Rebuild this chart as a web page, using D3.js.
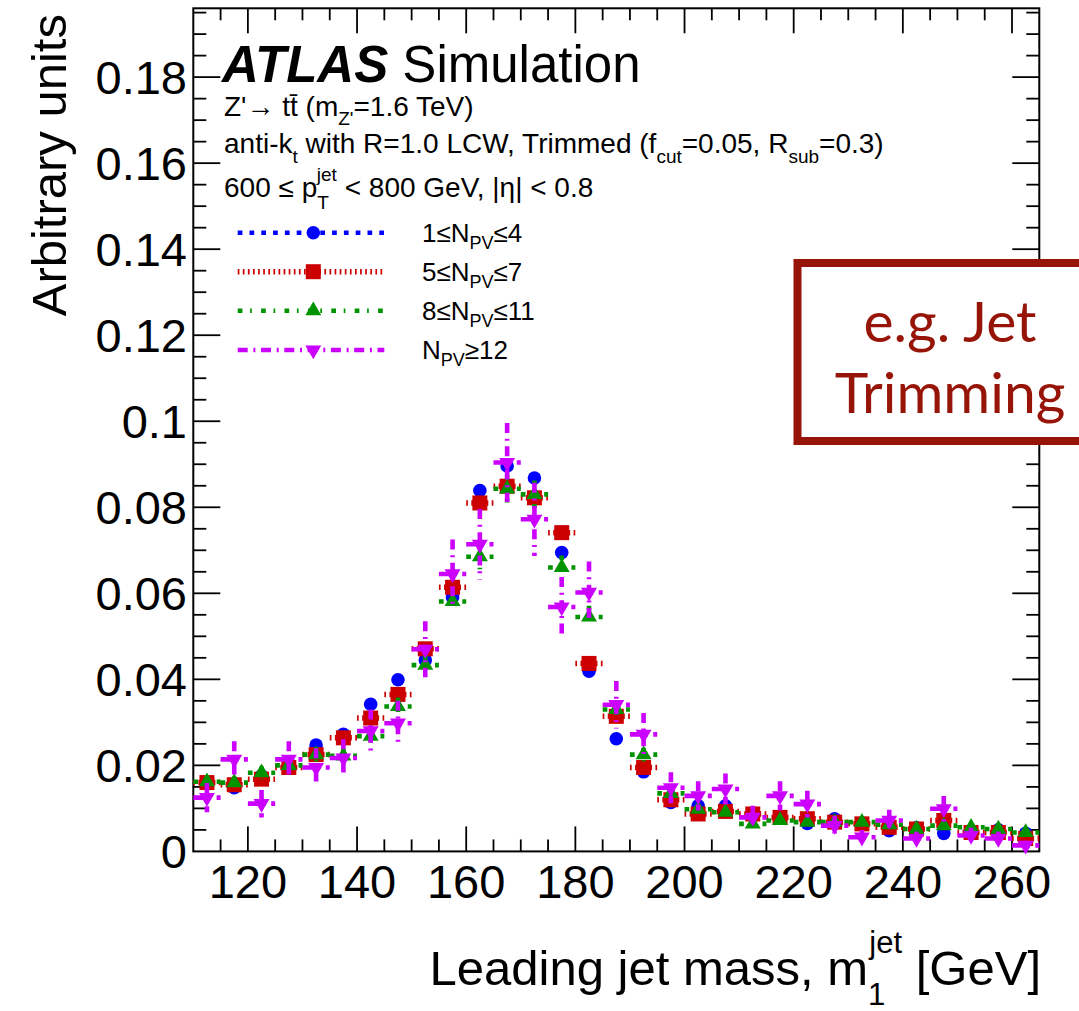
<!DOCTYPE html>
<html>
<head>
<meta charset="utf-8">
<script src="https://cdn.jsdelivr.net/npm/d3@7"></script>
<style>
  html, body { margin: 0; padding: 0; background: #fff; }
  svg { display: block; font-family: "Liberation Sans", Arial, Helvetica, sans-serif; }
</style>
</head>
<body>
<div id="chart"></div>
<script>
// bin centres of the leading jet mass histogram [GeV], 5 GeV wide
var massBins = [112.5, 117.5, 122.5, 127.5, 132.5, 137.5, 142.5, 147.5, 152.5, 157.5,
  162.5, 167.5, 172.5, 177.5, 182.5, 187.5, 192.5, 197.5, 202.5, 207.5,
  212.5, 217.5, 222.5, 227.5, 232.5, 237.5, 242.5, 247.5, 252.5, 257.5, 262.5];
var binWidth = 5;

// normalised yields, one array per pile-up bin
var npv1to4 = [0.0160, 0.0148, 0.0176, 0.0205, 0.0247, 0.0272, 0.0342, 0.0399, 0.0445, 0.0591,
  0.0839, 0.0896, 0.0868, 0.0695, 0.0419, 0.0262, 0.0185, 0.0114, 0.0106, 0.0106,
  0.0085, 0.0080, 0.0065, 0.0076, 0.0066, 0.0048, 0.0055, 0.0042, 0.0046, 0.0050, 0.0042];
var npv5to7 = [0.0160, 0.0155, 0.0168, 0.0195, 0.0225, 0.0264, 0.0310, 0.0365, 0.0471, 0.0614,
  0.0810, 0.0849, 0.0822, 0.0741, 0.0437, 0.0314, 0.0195, 0.0120, 0.0087, 0.0093,
  0.0087, 0.0079, 0.0076, 0.0068, 0.0064, 0.0056, 0.0052, 0.0072, 0.0044, 0.0044, 0.0030];
var npv8to11 = [0.0162, 0.0160, 0.0183, 0.0200, 0.0225, 0.0222, 0.0268, 0.0337, 0.0433, 0.0581,
  0.0685, 0.0843, 0.0830, 0.0660, 0.0545, 0.0330, 0.0225, 0.0135, 0.0098, 0.0091,
  0.0064, 0.0072, 0.0068, 0.0068, 0.0068, 0.0062, 0.0052, 0.0060, 0.0056, 0.0052, 0.0044];
var npv12up = [0.0125, 0.0214, 0.0111, 0.0214, 0.0195, 0.0217, 0.0280, 0.0298, 0.0470, 0.0645,
  0.0714, 0.0904, 0.0772, 0.0568, 0.0602, 0.0341, 0.0272, 0.0148, 0.0129, 0.0145,
  0.0079, 0.0129, 0.0110, 0.0060, 0.0033, 0.0072, 0.0030, 0.0099, 0.0037, 0.0030, 0.0014];

// statistical errors (blue ones are hidden under the markers, not drawn)
var err5to7 = [0.0008, 0.0007, 0.0008, 0.0008, 0.0009, 0.0010, 0.0011, 0.0011, 0.0013, 0.0015,
  0.0017, 0.0017, 0.0017, 0.0016, 0.0013, 0.0011, 0.0008, 0.0007, 0.0006, 0.0006,
  0.0006, 0.0005, 0.0005, 0.0005, 0.0005, 0.0004, 0.0004, 0.0005, 0.0004, 0.0004, 0.0003];
var err8to11 = [0.0014, 0.0014, 0.0015, 0.0016, 0.0017, 0.0016, 0.0018, 0.0020, 0.0023, 0.0027,
  0.0029, 0.0032, 0.0032, 0.0028, 0.0026, 0.0020, 0.0016, 0.0013, 0.0011, 0.0010,
  0.0009, 0.0009, 0.0009, 0.0009, 0.0009, 0.0009, 0.0008, 0.0009, 0.0008, 0.0008, 0.0007];
var err12up = [0.0034, 0.0042, 0.0032, 0.0042, 0.0045, 0.0044, 0.0050, 0.0052, 0.0065, 0.0080,
  0.0082, 0.0092, 0.0085, 0.0070, 0.0072, 0.0055, 0.0050, 0.0036, 0.0034, 0.0036,
  0.0027, 0.0034, 0.0031, 0.0023, 0.0017, 0.0025, 0.0016, 0.0030, 0.0018, 0.0016, 0.0011];

var xTicks = [120, 140, 160, 180, 200, 220, 240, 260];
var yTicks = [0, 0.02, 0.04, 0.06, 0.08, 0.1, 0.12, 0.14, 0.16, 0.18];

drawMassPlot("#chart");

function drawMassPlot(sel) {
  var width = 1079, height = 1011;
  var frame = { left: 193.3, right: 1039.3, top: 8.3, bottom: 851.4 };

  var svg = d3.select(sel).append("svg")
    .attr("width", width)
    .attr("height", height);

  var x = d3.scaleLinear().domain([110, 265]).range([frame.left, frame.right]);
  var y = d3.scaleLinear().domain([0, 0.196]).range([frame.bottom, frame.top]);

  var series = [
    { values: npv1to4, errors: null,
      color: "#0000ff", width: 4.6, dash: "4.7,7.1", symbol: d3.symbolCircle, size: 145, rot: 0 },
    { values: npv5to7, errors: err5to7,
      color: "#cc0000", width: 5.5, dash: "1.7,3.4", symbol: d3.symbolSquare, size: 225, rot: 0 },
    { values: npv8to11, errors: err8to11,
      color: "#009300", width: 4.6, dash: "4.7,7.7,1.7,9.3", symbol: d3.symbolTriangle, size: 110, rot: 0 },
    { values: npv12up, errors: err12up,
      color: "#cc00ff", width: 4.6, dash: "10,5.7,2,5.6", symbol: d3.symbolTriangle, size: 110, rot: 180 }
  ];
  var legendText = [
    ["1≤N", "PV", "≤4"],
    ["5≤N", "PV", "≤7"],
    ["8≤N", "PV", "≤11"],
    ["N", "PV", "≥12"]
  ];

  // frame
  svg.append("rect")
    .attr("x", frame.left).attr("y", frame.top)
    .attr("width", frame.right - frame.left)
    .attr("height", frame.bottom - frame.top)
    .attr("fill", "none").attr("stroke", "#000").attr("stroke-width", 2);

  // ticks, ROOT style: inside, on all four sides
  var ticks = svg.append("g").attr("stroke", "#000").attr("stroke-width", 1.8);
  d3.range(115, 265, 5).forEach(function(v) {
    var len = (v % 20 === 0) ? 25 : 12;
    ticks.append("line").attr("x1", x(v)).attr("x2", x(v))
      .attr("y1", frame.bottom).attr("y2", frame.bottom - len);
    ticks.append("line").attr("x1", x(v)).attr("x2", x(v))
      .attr("y1", frame.top).attr("y2", frame.top + len);
  });
  d3.range(1, 40).forEach(function(i) {
    var v = i * 0.005;
    if (v > 0.196) return;
    var len = (i % 4 === 0) ? 27 : 13;
    ticks.append("line").attr("x1", frame.left).attr("x2", frame.left + len)
      .attr("y1", y(v)).attr("y2", y(v));
    ticks.append("line").attr("x1", frame.right).attr("x2", frame.right - len)
      .attr("y1", y(v)).attr("y2", y(v));
  });

  // tick labels
  svg.append("g").selectAll("text")
    .data(xTicks).enter().append("text")
    .attr("x", function(d) { return x(d); })
    .attr("y", 898)
    .attr("text-anchor", "middle")
    .attr("font-size", 47)
    .text(function(d) { return d; });

  svg.append("g").selectAll("text")
    .data(yTicks).enter().append("text")
    .attr("x", 187)
    .attr("y", function(d) { return y(d) + 17; })
    .attr("text-anchor", "end")
    .attr("font-size", 47)
    .text(function(d) { return String(d); });

  // axis titles
  svg.append("text")
    .attr("transform", "translate(66,14) rotate(-90)")
    .attr("text-anchor", "end")
    .attr("font-size", 49)
    .text("Arbitrary units");

  var xt = svg.append("text")
    .attr("x", 1041).attr("y", 985)
    .attr("text-anchor", "end")
    .attr("font-size", 49);
  xt.append("tspan").text("Leading jet mass, m");
  xt.append("tspan").attr("font-size", 31).attr("dy", 20).text("1");
  xt.append("tspan").attr("font-size", 31).attr("dx", -16).attr("dy", -52).text("jet");
  xt.append("tspan").attr("dy", 32).text(" [GeV]");

  // data: error bars then markers, series by series
  series.forEach(function(s) {
    var g = svg.append("g");
    if (s.errors) {
      g.selectAll(".hbar").data(massBins).enter().append("line")
        .attr("x1", function(d) { return x(d - binWidth / 2); })
        .attr("x2", function(d) { return x(d + binWidth / 2); })
        .attr("y1", function(d, i) { return y(s.values[i]); })
        .attr("y2", function(d, i) { return y(s.values[i]); })
        .attr("stroke", s.color).attr("stroke-width", s.width)
        .attr("stroke-dasharray", s.dash);
      g.selectAll(".vbar").data(massBins).enter().append("line")
        .attr("x1", function(d) { return x(d); })
        .attr("x2", function(d) { return x(d); })
        .attr("y1", function(d, i) { return y(s.values[i] + s.errors[i]); })
        .attr("y2", function(d, i) { return y(s.values[i] - s.errors[i]); })
        .attr("stroke", s.color).attr("stroke-width", s.width)
        .attr("stroke-dasharray", s.dash);
    }
    var sym = d3.symbol().type(s.symbol).size(s.size);
    g.selectAll(".mk").data(massBins).enter().append("path")
      .attr("d", sym)
      .attr("transform", function(d, i) {
        return "translate(" + x(d) + "," + y(s.values[i]) + ") rotate(" + s.rot + ")";
      })
      .attr("fill", s.color);
  });

  // header texts
  var hdr = svg.append("g");
  var t0 = hdr.append("text").attr("x", 222).attr("y", 82).attr("font-size", 51);
  t0.append("tspan").attr("font-weight", "bold").attr("font-style", "italic").text("ATLAS");
  t0.append("tspan").text(" Simulation");

  var fs = 28, sub = 19;
  var t1 = hdr.append("text").attr("x", 224).attr("y", 116).attr("font-size", fs);
  t1.append("tspan").text("Z'\u2192 tt\u0304 (m");
  t1.append("tspan").attr("font-size", sub).attr("dy", 9).text("Z'");
  t1.append("tspan").attr("dy", -9).text("=1.6 TeV)");

  var t2 = hdr.append("text").attr("x", 224).attr("y", 153).attr("font-size", fs);
  t2.append("tspan").text("anti-k");
  t2.append("tspan").attr("font-size", sub).attr("dy", 10).text("t");
  t2.append("tspan").attr("dy", -10).text(" with R=1.0 LCW, Trimmed (f");
  t2.append("tspan").attr("font-size", sub).attr("dy", 10).text("cut");
  t2.append("tspan").attr("dy", -10).text("=0.05, R");
  t2.append("tspan").attr("font-size", sub).attr("dy", 10).text("sub");
  t2.append("tspan").attr("dy", -10).text("=0.3)");

  var t3 = hdr.append("text").attr("x", 224).attr("y", 197).attr("font-size", fs);
  t3.append("tspan").text("600 \u2264 p");
  t3.append("tspan").attr("font-size", sub).attr("dy", 12).text("T");
  t3.append("tspan").attr("font-size", sub).attr("dx", -12).attr("dy", -28).text("jet");
  t3.append("tspan").attr("dy", 16).text(" < 800 GeV, |\u03b7| < 0.8");

  // legend
  var legY = [232.7, 271.7, 310.7, 350];
  series.forEach(function(s, i) {
    var g = svg.append("g");
    g.append("line")
      .attr("x1", 237.7).attr("x2", 384.3)
      .attr("y1", legY[i]).attr("y2", legY[i])
      .attr("stroke", s.color).attr("stroke-width", s.width)
      .attr("stroke-dasharray", s.dash);
    g.append("path")
      .attr("d", d3.symbol().type(s.symbol).size(s.size))
      .attr("transform", "translate(313.3," + legY[i] + ") rotate(" + s.rot + ")")
      .attr("fill", s.color);
    var lt = g.append("text").attr("x", 422).attr("y", legY[i] + 9).attr("font-size", 26);
    lt.append("tspan").text(legendText[i][0]);
    lt.append("tspan").attr("font-size", 18).attr("dy", 7).text(legendText[i][1]);
    lt.append("tspan").attr("dy", -7).text(legendText[i][2]);
  });

  // annotation box
  svg.append("rect")
    .attr("x", 797.5).attr("y", 263)
    .attr("width", 320).attr("height", 178)
    .attr("fill", "#fff").attr("stroke", "#961508").attr("stroke-width", 8);
  svg.append("text")
    .attr("x", 950).attr("y", 342)
    .attr("text-anchor", "middle")
    .attr("font-family", "Lato, 'Open Sans', sans-serif")
    .attr("font-size", 57).attr("fill", "#961508")
    .text("e.g. Jet");
  svg.append("text")
    .attr("x", 950).attr("y", 413)
    .attr("text-anchor", "middle")
    .attr("font-family", "Lato, 'Open Sans', sans-serif")
    .attr("font-size", 57).attr("fill", "#961508")
    .text("Trimming");
}
</script>
</body>
</html>
